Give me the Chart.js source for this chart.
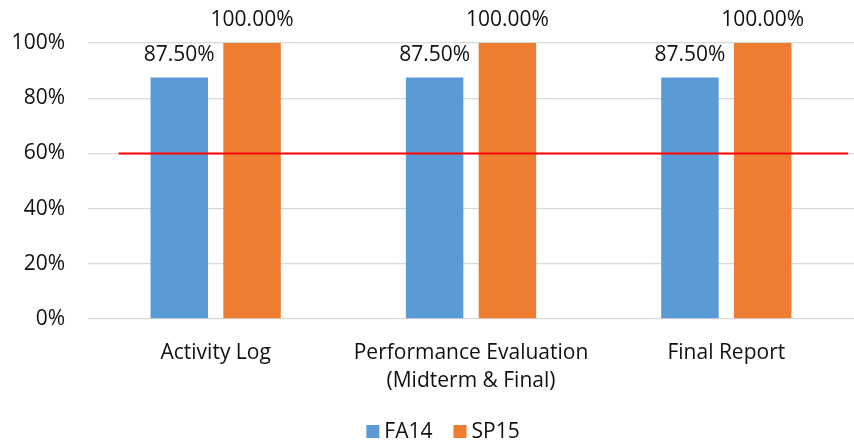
<!DOCTYPE html>
<html>
<head>
<meta charset="utf-8">
<script src="https://cdn.jsdelivr.net/npm/chart.js@4/dist/chart.umd.min.js"></script>
<style>
  html, body { margin: 0; padding: 0; background: #ffffff; }
  #wrap { position: relative; width: 854px; height: 442px; }
</style>
</head>
<body>
<div id="wrap"><canvas id="c" width="854" height="442"></canvas></div>
<script>
// Assessment components and the share of students meeting the target
const categories = ['Activity Log', ['Performance Evaluation', '(Midterm & Final)'], 'Final Report'];
const fa14 = [87.5, 87.5, 87.5];
const sp15 = [100, 100, 100];

// Target benchmark line (60%); ends given in category-index units
const targetX = [-0.38, 2.477];
const targetY = [60, 60];

// Y-axis ticks
const yTicks = [0, 20, 40, 60, 80, 100];

const FONT = '"Open Sans", "Liberation Sans", sans-serif';
const FONT_SIZE = 21;
const TEXT = '#111111';

// Red benchmark line drawn across the bars
const targetLine = {
  id: 'targetLine',
  afterDatasetsDraw(chart) {
    const { ctx, scales: { x, y } } = chart;
    ctx.save();
    ctx.strokeStyle = '#FF0000';
    ctx.lineWidth = 2;
    ctx.beginPath();
    ctx.moveTo(x.getPixelForValue(targetX[0]), y.getPixelForValue(targetY[0]));
    ctx.lineTo(x.getPixelForValue(targetX[1]), y.getPixelForValue(targetY[1]));
    ctx.stroke();
    ctx.restore();
  }
};

// Writes each bar's value above it
const valueLabels = {
  id: 'valueLabels',
  afterDatasetsDraw(chart) {
    const ctx = chart.ctx;
    ctx.save();
    ctx.font = FONT_SIZE + 'px ' + FONT;
    ctx.fillStyle = TEXT;
    ctx.textAlign = 'center';
    ctx.textBaseline = 'alphabetic';
    chart.data.datasets.forEach((ds, i) => {
      const meta = chart.getDatasetMeta(i);
      meta.data.forEach((bar, j) => {
        ctx.fillText(ds.data[j].toFixed(2) + '%', bar.x, bar.y - 17);
      });
    });
    ctx.restore();
  }
};

// Compact legend under the axis labels: square swatch, short gap, series name
const seriesLegend = {
  id: 'seriesLegend',
  afterDraw(chart) {
    const ctx = chart.ctx;
    const box = 13, gap = 5, spacing = 21, centerX = 443, baseline = 438;
    ctx.save();
    ctx.font = FONT_SIZE + 'px ' + FONT;
    ctx.textBaseline = 'alphabetic';
    ctx.textAlign = 'left';
    const items = chart.data.datasets.map(ds => ({
      text: ds.label, color: ds.backgroundColor, w: box + gap + ctx.measureText(ds.label).width
    }));
    const total = items.reduce((s, it) => s + it.w, 0) + spacing * (items.length - 1);
    let xPos = centerX - total / 2;
    items.forEach(it => {
      ctx.fillStyle = it.color;
      ctx.fillRect(xPos, baseline - box, box, box);
      ctx.fillStyle = TEXT;
      ctx.fillText(it.text, xPos + box + gap, baseline);
      xPos += it.w + spacing;
    });
    ctx.restore();
  }
};

new Chart(document.getElementById('c'), {
  type: 'bar',
  data: {
    labels: categories,
    datasets: [
      {
        label: 'FA14',
        data: fa14,
        backgroundColor: '#5B9BD5',
        categoryPercentage: 0.57,
        barPercentage: 0.79
      },
      {
        label: 'SP15',
        data: sp15,
        backgroundColor: '#ED7D31',
        categoryPercentage: 0.57,
        barPercentage: 0.79
      }
    ]
  },
  options: {
    responsive: false,
    animation: false,
    events: [],
    layout: { padding: { top: 43, right: 0, bottom: 27, left: 0 } },
    scales: {
      x: {
        grid: { display: false, drawTicks: false },
        border: { display: false },
        ticks: {
          color: TEXT,
          font: { family: FONT, size: FONT_SIZE, lineHeight: 28 / 21 },
          padding: 20,
          maxRotation: 0,
          autoSkip: false
        }
      },
      y: {
        min: 0,
        max: 100,
        afterFit(scale) { scale.width = 88; },
        afterBuildTicks(scale) { scale.ticks = yTicks.map(v => ({ value: v })); },
        grid: { color: '#D9D9D9', lineWidth: 1.3, drawTicks: false },
        border: { display: false },
        ticks: {
          color: TEXT,
          font: { family: FONT, size: FONT_SIZE },
          padding: 23,
          callback: v => v + '%'
        }
      }
    },
    plugins: {
      legend: { display: false },
      tooltip: { enabled: false },
      title: { display: false }
    }
  },
  plugins: [targetLine, valueLabels, seriesLegend]
});
</script>
</body>
</html>
